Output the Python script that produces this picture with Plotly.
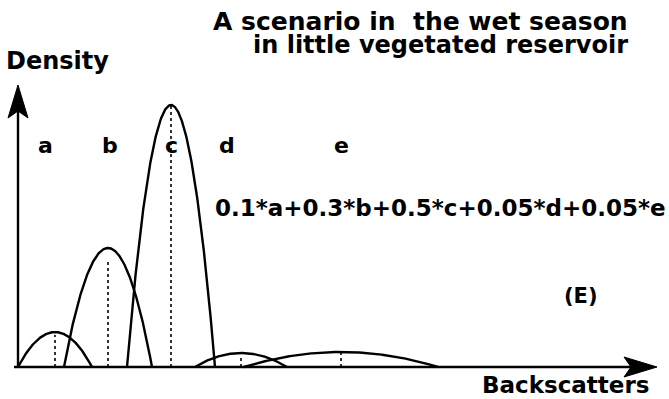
import numpy as np
import plotly.graph_objects as go

# Component backscatter distributions of the mixture
labels = ["a", "b", "c", "d", "e"]
weights = [0.1, 0.3, 0.5, 0.05, 0.05]
peak_pos = [55, 108, 171, 241, 341]        # backscatter value at each peak
peak_density = [35, 119, 262, 14, 15]      # density at each peak
half_width = [37, 44, 44, 46, 97]          # half-width of each hump at zero density
guide_top = [32, 105, 262, 10, 15]         # top of the dotted guide under each peak
label_x = [45, 110, 171, 227, 341]         # where each component letter sits
label_y = 222

W, H = 669, 399
BASE = 367          # pixel row of the zero-density line
X_RANGE = [0, W]
Y_RANGE = [BASE - H, BASE]

BOLD = dict(family="DejaVu Sans", color="black", weight="bold")

fig = go.Figure()

# humps
for m, h, w in zip(peak_pos, peak_density, half_width):
    x = np.linspace(m - w, m + w, 241)
    y = h * (1 - ((x - m) / w) ** 2)
    fig.add_trace(go.Scatter(x=x, y=y, mode="lines",
                             line=dict(color="black", width=2.4),
                             hoverinfo="skip", showlegend=False))

# dotted guides at peaks
for m, t in zip(peak_pos, guide_top):
    fig.add_trace(go.Scatter(x=[m, m], y=[0, t], mode="lines",
                             line=dict(color="black", width=1.6, dash="dot"),
                             hoverinfo="skip", showlegend=False))

# axes with filled arrowheads
x_axis = dict(start=(14, 0), tip=(657, 0))
y_axis = dict(start=(18, 0), tip=(18, 282))
head_len, head_half, notch = 33, 10, 7

for ax in (x_axis, y_axis):
    (x0, y0), (x1, y1) = ax["start"], ax["tip"]
    d = np.array([x1 - x0, y1 - y0], dtype=float)
    d /= np.linalg.norm(d)
    n = np.array([-d[1], d[0]])
    tip = np.array([x1, y1], dtype=float)
    back = tip - d * head_len
    notch_pt = tip - d * (head_len - notch)
    fig.add_trace(go.Scatter(x=[x0, notch_pt[0]], y=[y0, notch_pt[1]], mode="lines",
                             line=dict(color="black", width=2.4),
                             hoverinfo="skip", showlegend=False))
    poly = [tip, back + n * head_half, notch_pt, back - n * head_half, tip]
    fig.add_trace(go.Scatter(x=[p[0] for p in poly], y=[p[1] for p in poly],
                             mode="lines", fill="toself", fillcolor="black",
                             line=dict(color="black", width=1),
                             hoverinfo="skip", showlegend=False))

ann = []
for lab, lx in zip(labels, label_x):
    ann.append(dict(x=lx, y=label_y, text=lab, showarrow=False,
                    font=dict(BOLD, size=22), xanchor="center", yanchor="middle"))

formula = "+".join(f"{w:g}*{l}" for w, l in zip(weights, labels))
ann += [
    dict(x=630, y=346, text="A scenario in  the wet season", showarrow=False,
         font=dict(BOLD, size=25), xanchor="right", yanchor="middle"),
    dict(x=630, y=322, text="in little vegetated reservoir", showarrow=False,
         font=dict(BOLD, size=24), xanchor="right", yanchor="middle"),
    dict(x=4, y=306, text="Density", showarrow=False,
         font=dict(BOLD, size=24), xanchor="left", yanchor="middle"),
    dict(x=651, y=-18, text="Backscatters", showarrow=False,
         font=dict(BOLD, size=23), xanchor="right", yanchor="middle"),
    dict(x=213, y=159, text=formula, showarrow=False,
         font=dict(BOLD, size=23), xanchor="left", yanchor="middle"),
    dict(x=581, y=71, text="(E)", showarrow=False,
         font=dict(BOLD, size=21), xanchor="center", yanchor="middle"),
]

fig.update_layout(
    width=W, height=H,
    margin=dict(l=0, r=0, t=0, b=0),
    paper_bgcolor="white", plot_bgcolor="white",
    xaxis=dict(range=X_RANGE, visible=False, fixedrange=True),
    yaxis=dict(range=Y_RANGE, visible=False, fixedrange=True),
    annotations=ann,
    showlegend=False,
)

fig.write_html("out.html", config=dict(displayModeBar=False))
